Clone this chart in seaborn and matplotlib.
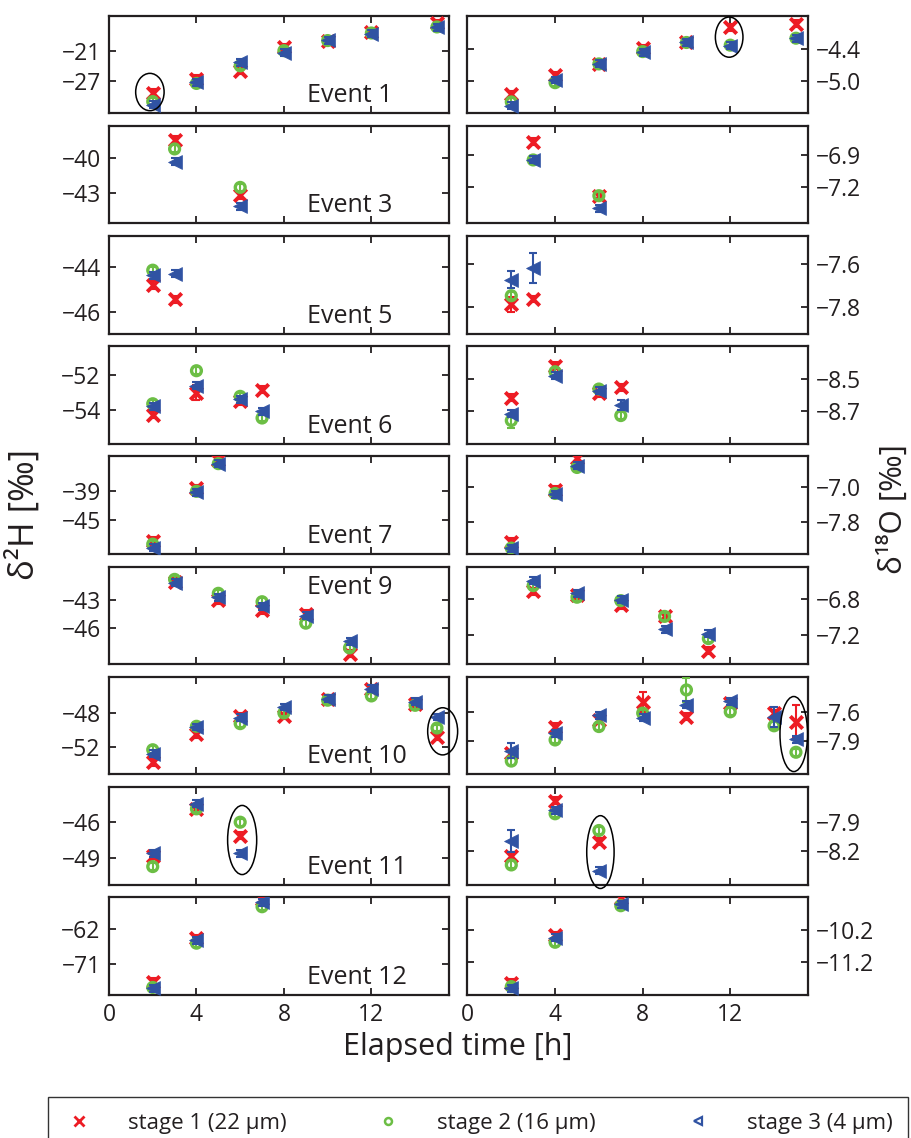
import numpy as np
import pandas as pd
import matplotlib
matplotlib.use("Agg")
import matplotlib.pyplot as plt
from matplotlib.patches import Ellipse
from matplotlib.lines import Line2D
import seaborn as sns

# ---------------- data ----------------
events = ["Event 1", "Event 3", "Event 5", "Event 6", "Event 7",
          "Event 9", "Event 10", "Event 11", "Event 12"]
stage_labels = ["stage 1 (22 \u03bcm)", "stage 2 (16 \u03bcm)", "stage 3 (4 \u03bcm)"]
x_ticks = [0, 4, 8, 12]

ev1_t = [2, 4, 6, 8, 10, 12, 15]
ev1_H1 = [-29.4, -26.6, -24.96, -20.3, -19.0, -17.4, -15.6]
ev1_H2 = [-31.1, -27.5, -24.0, -21.0, -19.0, -17.5, -16.3]
ev1_H3 = [-31.75, -27.3, -23.3, -21.4, -18.9, -17.6, -16.4]
ev1_O1 = [-5.25, -4.89, -4.68, -4.39, -4.28, -4.0, -3.93]
ev1_O2 = [-5.39, -5.03, -4.68, -4.45, -4.28, -4.33, -4.2]
ev1_O3 = [-5.46, -4.98, -4.68, -4.46, -4.28, -4.34, -4.2]

ev3_t = [3, 6]
ev3_H1 = [-38.48, -43.2]
ev3_H2 = [-39.25, -42.54]
ev3_H3 = [-40.34, -44.14]
ev3_O1 = [-6.776, -7.278]
ev3_O2 = [-6.946, -7.278]
ev3_O3 = [-6.946, -7.395]

ev5_t = [2, 3]
ev5_H1 = [-44.81, -45.44]
ev5_H2 = [-44.15, np.nan]
ev5_H3 = [-44.37, -44.3]
ev5_O1 = [-7.789, -7.764]
ev5_O2 = [-7.749, np.nan]
ev5_O3 = [-7.675, -7.62]

ev6_t = [2, 4, 6, 7]
ev6_H1 = [-54.29, -53.0, -53.5, -52.83]
ev6_H2 = [-53.65, -51.73, -53.22, -54.48]
ev6_H3 = [-53.81, -52.6, -53.4, -54.1]
ev6_O1 = [-8.617, -8.413, -8.589, -8.551]
ev6_O2 = [-8.764, -8.451, -8.562, -8.732]
ev6_O3 = [-8.721, -8.477, -8.573, -8.664]

ev7_t = [2, 4, 5]
ev7_H1 = [-49.1, -38.5, -32.7]
ev7_H2 = [-49.8, -39.1, -33.5]
ev7_H3 = [-50.5, -39.3, -33.5]
ev7_O1 = [-8.25, -7.05, -6.32]
ev7_O2 = [-8.4, -7.14, -6.54]
ev7_O3 = [-8.4, -7.16, -6.5]

ev9_t = [3, 5, 7, 9, 11]
ev9_H1 = [-41.0, -43.0, -44.08, -44.5, -48.8]
ev9_H2 = [-40.76, -42.27, -43.18, -45.5, -48.17]
ev9_H3 = [-41.13, -42.7, -43.65, -44.7, -47.44]
ev9_O1 = [-6.716, -6.76, -6.874, -6.996, -7.382]
ev9_O2 = [-6.652, -6.782, -6.82, -6.996, -7.244]
ev9_O3 = [-6.597, -6.738, -6.808, -7.14, -7.19]

ev10_t = [2, 4, 6, 8, 10, 12, 14, 15]
ev10_H1 = [-53.76, -50.5, -48.35, -48.35, -46.31, -45.14, -46.9, -50.82]
ev10_H2 = [-52.31, -49.56, -49.25, -48.0, -46.5, -46.0, -47.1, -49.76]
ev10_H3 = [-52.78, -49.65, -48.55, -47.29, -46.31, -45.14, -46.7, -48.47]
ev10_O1 = [-8.035, -7.75, -7.679, -7.489, -7.646, -7.5, -7.607, -7.697]
ev10_O2 = [-8.118, -7.893, -7.75, -7.607, -7.36, -7.593, -7.742, -8.024]
ev10_O3 = [-8.007, -7.821, -7.632, -7.654, -7.52, -7.482, -7.646, -7.885]

ev11_t = [2, 4, 6]
ev11_H1 = [-48.78, -44.89, -47.11]
ev11_H2 = [-49.69, -44.89, -46.0]
ev11_H3 = [-48.58, -44.47, -48.58]
ev11_O1 = [-8.253, -7.671, -8.105]
ev11_O2 = [-8.352, -7.811, -7.988]
ev11_O3 = [-8.101, -7.776, -8.412]

ev12_t = [2, 4, 7]
ev12_H1 = [-75.5, -64.3, -54.2]
ev12_H2 = [-77.0, -65.6, -56.2]
ev12_H3 = [-77.2, -64.9, -55.1]
ev12_O1 = [-11.83, -10.38, -9.23]
ev12_O2 = [-11.95, -10.59, -9.47]
ev12_O3 = [-12.0, -10.45, -9.43]

# typical (small) measurement errors per event, H and O
err_H = [0.7, 0.3, 0.16, 0.2, 0.7, 0.38, 0.4, 0.3, 0.9]
err_O = [0.065, 0.033, 0.016, 0.022, 0.08, 0.039, 0.037, 0.037, 0.11]
# larger individual errors: (event index, isotope, stage, point index) -> error
err_large = {
    (2, "O", 3, 1): 0.07, (2, "O", 3, 0): 0.04, (2, "O", 1, 0): 0.035,
    (3, "H", 1, 1): 0.44, (3, "H", 2, 1): 0.2,
    (3, "O", 2, 0): 0.045, (3, "O", 3, 3): 0.03,
    (6, "O", 3, 0): 0.08, (6, "O", 1, 3): 0.107, (6, "O", 2, 4): 0.13,
    (6, "O", 3, 6): 0.107, (6, "O", 1, 7): 0.18,
    (7, "O", 3, 0): 0.115,
}

# y ticks (labels as printed) and axis limits
yticks_H = [[-27, -21], [-43, -40], [-46, -44], [-54, -52], [-45, -39],
            [-46, -43], [-52, -48], [-49, -46], [-71, -62]]
yticks_O = [[-5.0, -4.4], [-7.2, -6.9], [-7.8, -7.6], [-8.7, -8.5], [-7.8, -7.0],
            [-7.2, -6.8], [-7.9, -7.6], [-8.2, -7.9], [-11.2, -10.2]]
ylim_H = [(-33.4, -14.07), (-45.62, -37.28), (-46.96, -42.64), (-55.98, -50.31),
          (-51.8, -32.05), (-49.94, -39.39), (-55.2, -43.77), (-51.19, -43.08),
          (-78.9, -53.77)]
ylim_O = [(-5.6, -3.78), (-7.535, -6.63), (-7.925, -7.472), (-8.913, -8.288),
          (-8.537, -6.287), (-7.53, -6.441), (-8.26, -7.221), (-8.56, -7.529),
          (-12.2, -9.212)]

# highlighted points (row, column, centre t, centre value, width, height)
ellipses = [
    (0, 0, 1.87, -29.2, 1.3, 7.4),
    (0, 1, 11.95, -4.18, 1.26, 0.75),
    (6, 0, 15.26, -50.15, 1.37, 5.53),
    (6, 1, 14.9, -7.83, 1.26, 0.80),
    (7, 0, 6.09, -47.48, 1.33, 5.75),
    (7, 1, 6.07, -8.216, 1.25, 0.77),
]

# ---------------- build long table ----------------
series = {
    0: (ev1_t, [ev1_H1, ev1_H2, ev1_H3], [ev1_O1, ev1_O2, ev1_O3]),
    1: (ev3_t, [ev3_H1, ev3_H2, ev3_H3], [ev3_O1, ev3_O2, ev3_O3]),
    2: (ev5_t, [ev5_H1, ev5_H2, ev5_H3], [ev5_O1, ev5_O2, ev5_O3]),
    3: (ev6_t, [ev6_H1, ev6_H2, ev6_H3], [ev6_O1, ev6_O2, ev6_O3]),
    4: (ev7_t, [ev7_H1, ev7_H2, ev7_H3], [ev7_O1, ev7_O2, ev7_O3]),
    5: (ev9_t, [ev9_H1, ev9_H2, ev9_H3], [ev9_O1, ev9_O2, ev9_O3]),
    6: (ev10_t, [ev10_H1, ev10_H2, ev10_H3], [ev10_O1, ev10_O2, ev10_O3]),
    7: (ev11_t, [ev11_H1, ev11_H2, ev11_H3], [ev11_O1, ev11_O2, ev11_O3]),
    8: (ev12_t, [ev12_H1, ev12_H2, ev12_H3], [ev12_O1, ev12_O2, ev12_O3]),
}
rows = []
for ei, (t, Hs, Os) in series.items():
    for iso, vals_list, dflt in (("H", Hs, err_H[ei]), ("O", Os, err_O[ei])):
        for si, vals in enumerate(vals_list, start=1):
            for pi, (tt, v) in enumerate(zip(t, vals)):
                if np.isnan(v):
                    continue
                e = err_large.get((ei, iso, si, pi), dflt)
                rows.append(dict(event=ei, iso=iso, stage=si, t=tt, val=v, err=e))
df = pd.DataFrame(rows)

# ---------------- style ----------------
sns.set_theme(style="white")
plt.rcParams["font.family"] = ["Open Sans", "DejaVu Sans"]
plt.rcParams["axes.unicode_minus"] = True

RED = "#ED1C24"
GREEN = "#6CBE45"
BLUE = "#3053A3"
TXT = "#231f20"
colors = {1: RED, 2: GREEN, 3: BLUE}

W, H = 912, 1138
fig = plt.figure(figsize=(W / 100, H / 100), dpi=100)

col_x = [109.0, 467.5]
col_w = [340.0, 340.5]
row_top0, row_step, row_h = 15.7, 110.2, 97.5

axes = {}
for r in range(9):
    top = row_top0 + r * row_step
    for c in range(2):
        ax = fig.add_axes([col_x[c] / W, 1 - (top + row_h) / H, col_w[c] / W, row_h / H])
        axes[(r, c)] = ax

for r in range(9):
    for c, iso in enumerate(["H", "O"]):
        ax = axes[(r, c)]
        sub = df[(df.event == r) & (df.iso == iso)]
        for s in (1, 2, 3):
            d = sub[sub.stage == s]
            ax.errorbar(d.t, d.val, yerr=d.err, fmt="none", ecolor=colors[s],
                        elinewidth=1.5, capsize=3, capthick=1.5, zorder=2 + s)
            if s == 1:
                sns.scatterplot(data=d, x="t", y="val", ax=ax, marker="x", color=RED,
                                s=80, linewidth=2.8, legend=False, zorder=3)
            elif s == 2:
                sns.scatterplot(data=d, x="t", y="val", ax=ax, marker="o",
                                facecolor="none", edgecolor=GREEN, s=50,
                                linewidth=2.4, legend=False, zorder=4)
            else:
                sns.scatterplot(data=d, x="t", y="val", ax=ax, marker="<", color=BLUE,
                                edgecolor=BLUE, s=100, linewidth=0.5, legend=False, zorder=5)
        ax.set_xlim(0, 15.55)
        ax.set_ylim(*(ylim_H[r] if iso == "H" else ylim_O[r]))
        ax.set_xticks(x_ticks)
        ticks = yticks_H[r] if iso == "H" else yticks_O[r]
        ax.set_yticks(ticks)
        if iso == "H":
            ax.set_yticklabels([f"\u2212{abs(v):g}" for v in ticks])
        else:
            ax.set_yticklabels([f"\u2212{abs(v):.1f}" for v in ticks])
        ax.set_xlabel("")
        ax.set_ylabel("")
        ax.tick_params(direction="in", length=5, width=1.3, top=True, bottom=True,
                       left=True, right=True, labelsize=16.5, colors=TXT,
                       pad=6)
        if c == 1:
            ax.tick_params(labelleft=False, labelright=True)
        if r < 8:
            ax.tick_params(labelbottom=False)
        for sp in ax.spines.values():
            sp.set_linewidth(1.6)
            sp.set_color(TXT)
        if c == 0:
            ypos = 0.79 if r == 5 else 0.18
            ax.text(0.582, ypos, events[r], transform=ax.transAxes, fontsize=18,
                    ha="left", va="center", color=TXT)

for (r, c, xc, yc, w, h) in ellipses:
    ax = axes[(r, c)]
    ax.add_patch(Ellipse((xc, yc), w, h, fill=False, edgecolor="black",
                         linewidth=1.1, clip_on=False, zorder=10))

fig.text(458 / W, 1 - 1047 / H, "Elapsed time [h]", ha="center", va="center",
         fontsize=22, color=TXT)
fig.text(24 / W, 1 - 515 / H, "\u03b4\u00b2H [\u2030]", ha="center", va="center",
         rotation=90, fontsize=25, color=TXT)
fig.text(893 / W, 1 - 509 / H, "\u03b4\u00b9\u2078O [\u2030]", ha="center", va="center",
         rotation=90, fontsize=22.5, color=TXT)

handles = [
    Line2D([], [], linestyle="none", marker="x", color=RED, markersize=7, markeredgewidth=2),
    Line2D([], [], linestyle="none", marker="o", markerfacecolor="none",
           markeredgecolor=GREEN, markersize=5, markeredgewidth=1.8),
    Line2D([], [], linestyle="none", marker="<", markerfacecolor="none",
           markeredgecolor=BLUE, markersize=6, markeredgewidth=1.6),
]
leg = fig.legend(handles, stage_labels, loc="upper left",
                 bbox_to_anchor=(48 / W, 1 - 1097 / H, 860 / W, 0), mode="expand",
                 ncol=3, frameon=True, fancybox=False, borderaxespad=0,
                 fontsize=16, handletextpad=1.5, borderpad=0.7, handlelength=1.4)
leg.get_frame().set_edgecolor("black")
leg.get_frame().set_linewidth(1.0)
for txt in leg.get_texts():
    txt.set_color(TXT)

fig.savefig("out.png", dpi=100)
